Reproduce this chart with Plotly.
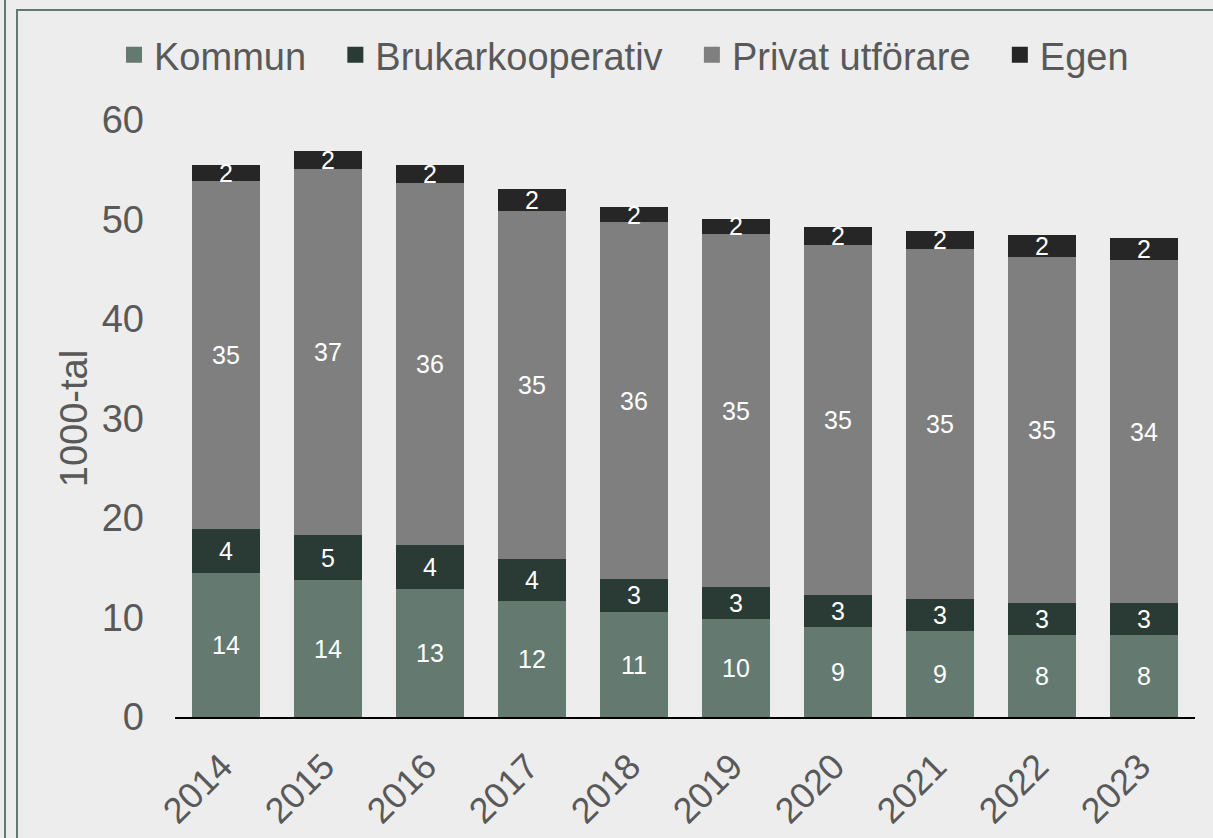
import plotly.graph_objects as go

years = ["2014", "2015", "2016", "2017", "2018", "2019", "2020", "2021", "2022", "2023"]
kommun = [14.45, 13.75, 12.9, 11.7, 10.55, 9.85, 9.05, 8.65, 8.25, 8.25]
brukarkooperativ = [4.45, 4.55, 4.4, 4.2, 3.35, 3.2, 3.2, 3.2, 3.2, 3.2]
privat = [35.0, 36.8, 36.4, 35.0, 35.8, 35.45, 35.2, 35.2, 34.8, 34.45]
egen = [1.6, 1.8, 1.8, 2.2, 1.6, 1.6, 1.8, 1.8, 2.2, 2.2]

series = [
    ("Kommun", kommun, "#647A70"),
    ("Brukarkooperativ", brukarkooperativ, "#2A3A34"),
    ("Privat utförare", privat, "#7F7F7F"),
    ("Egen", egen, "#262626"),
]
y_ticks = [0, 10, 20, 30, 40, 50, 60]

FONT = "Liberation Sans, Arial, sans-serif"
TXT = "#595959"
W, H = 1213, 838
ML, MR, MT, MB = 175, 18, 120, 121
PW, PH = W - ML - MR, H - MT - MB
PAD = "\u00a0\u200a\u00a0"


def px_x(p):
    return (p - ML) / PW


def px_y(p):
    return (H - MB - p) / PH


fig = go.Figure()
for name, vals, col in series:
    fig.add_trace(go.Bar(
        x=years, y=vals, name=name, marker=dict(color=col, line=dict(width=0)),
        texttemplate="%{y:.0f}", textposition="inside", insidetextanchor="middle",
        textangle=0, textfont=dict(color="white", size=25, family=FONT),
        showlegend=False, hoverinfo="x+y+name",
    ))
for i, (name, vals, col) in enumerate(series):
    fig.add_trace(go.Scatter(
        x=[None], y=[None], mode="markers",
        name=name + (PAD if i < len(series) - 1 else ""),
        marker=dict(symbol="square", size=16, color=col), showlegend=True,
    ))

fig.update_layout(
    barmode="stack", bargap=1/3,
    width=W, height=H, autosize=False,
    margin=dict(l=ML, r=MR, t=MT, b=MB, pad=0),
    paper_bgcolor="#EDEDED", plot_bgcolor="#EDEDED",
    font=dict(family=FONT, color=TXT, size=38),
    uniformtext=dict(mode="show", minsize=25),
    legend=dict(orientation="h", x=px_x(114), xanchor="left", y=px_y(55), yanchor="middle",
                font=dict(size=38, color=TXT, family=FONT), bgcolor="rgba(0,0,0,0)",
                itemclick=False, tracegroupgap=0, traceorder="normal"),
    xaxis=dict(type="category", showline=True, linecolor="black", linewidth=2,
               showgrid=False, zeroline=False, ticks="", tickangle=-45,
               ticklabelstandoff=12, ticklabelshift=-4,
               tickfont=dict(size=36, color=TXT), automargin=False),
    yaxis=dict(range=[0, 60], tickvals=y_ticks, showgrid=False, zeroline=False,
               showline=False, ticks="", tickfont=dict(size=38, color=TXT),
               ticklabelstandoff=30, automargin=False,
               title=dict(text="1000-tal", font=dict(size=38, color=TXT), standoff=2)),
    shapes=[
        dict(type="line", xref="paper", yref="paper", x0=px_x(5), x1=px_x(5),
             y0=px_y(-5), y1=px_y(845), line=dict(color="#647A70", width=2)),
        dict(type="rect", xref="paper", yref="paper", x0=px_x(17), x1=px_x(1225),
             y0=px_y(850), y1=px_y(10), line=dict(color="#647A70", width=2),
             fillcolor="rgba(0,0,0,0)", layer="below"),
    ],
)

fig.write_html("out.html", config={"displayModeBar": False},
               post_script="document.body.style.margin='0';document.body.style.overflow='hidden';")
